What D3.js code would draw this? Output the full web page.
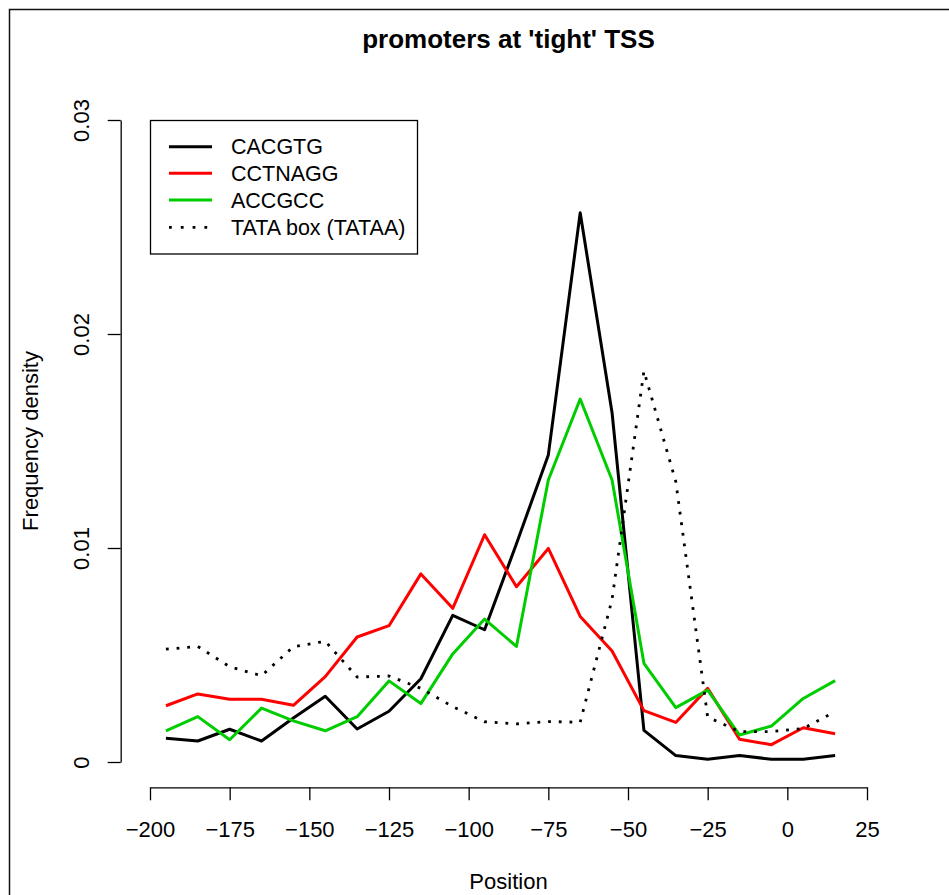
<!DOCTYPE html>
<html>
<head>
<meta charset="utf-8">
<script src="https://cdn.jsdelivr.net/npm/d3@7"></script>
<style>
  html, body { margin: 0; padding: 0; background: #fff; }
  svg { display: block; font-family: "Liberation Sans", Arial, Helvetica, sans-serif; }
</style>
</head>
<body>
<svg id="chart" width="949" height="895"></svg>
<script>
// ---- data ----
const positions = [-195, -185, -175, -165, -155, -145, -135, -125, -115, -105, -95, -85, -75, -65, -55, -45, -35, -25, -15, -5, 5, 15];
const cacgtg  = [0.00111, 0.00098, 0.00153, 0.00098, 0.00206, 0.00307, 0.00154, 0.00237, 0.00389, 0.00685, 0.00618, 0.0102, 0.01435, 0.02567, 0.01632, 0.00148, 0.0003, 0.00013, 0.0003, 0.00013, 0.00013, 0.0003];
const cctnagg = [0.00263, 0.00318, 0.00293, 0.00293, 0.00265, 0.00399, 0.00584, 0.00637, 0.00879, 0.00718, 0.01062, 0.00819, 0.00998, 0.0068, 0.00519, 0.0024, 0.00185, 0.00344, 0.00106, 0.00081, 0.0016, 0.00132];
const accgcc  = [0.00145, 0.00212, 0.00104, 0.00252, 0.00192, 0.00146, 0.00212, 0.00379, 0.00273, 0.00505, 0.00668, 0.0054, 0.01318, 0.01696, 0.01318, 0.00461, 0.00254, 0.00336, 0.00126, 0.00168, 0.00297, 0.0038];
const tata    = [0.00527, 0.0054, 0.00445, 0.00403, 0.00539, 0.00564, 0.00397, 0.00402, 0.00344, 0.00259, 0.00188, 0.00178, 0.00189, 0.00186, 0.0076, 0.01827, 0.0131, 0.0021, 0.00142, 0.00142, 0.00157, 0.00235];
const seriesNames = ["CACGTG", "CCTNAGG", "ACCGCC", "TATA box (TATAA)"];
const seriesColors = ["#000000", "#FF0000", "#00CD00", "#000000"];
const xTicks = [-200, -175, -150, -125, -100, -75, -50, -25, 0, 25];
const yTicks = [0, 0.01, 0.02, 0.03];
const titleText = "promoters at 'tight' TSS";
const xLabel = "Position";
const yLabel = "Frequency density";

const seriesValues = [cacgtg, cctnagg, accgcc, tata];
const dotted = [false, false, false, true];

// ---- layout ----
const svg = d3.select("#chart");
const x = d3.scaleLinear().domain([-200, 25]).range([150, 867]);
const y = d3.scaleLinear().domain([0, 0.03]).range([762, 120]);
const xAxisY = 787.3;
const yAxisX = 120.7;
const fontSize = 22;

// figure frame
svg.append("rect")
  .attr("x", 9.5).attr("y", 9.5).attr("width", 1200).attr("height", 1200)
  .attr("fill", "none").attr("stroke", "#111").attr("stroke-width", 1.5);

// title
svg.append("text")
  .attr("x", (x.range()[0] + x.range()[1]) / 2).attr("y", 48)
  .attr("text-anchor", "middle")
  .attr("font-weight", "bold").attr("font-size", 26)
  .text(titleText);

// x axis
const gx = svg.append("g").attr("transform", `translate(0,${xAxisY})`)
  .call(d3.axisBottom(x).tickValues(xTicks).tickSize(13).tickSizeOuter(0));
gx.select(".domain").attr("stroke-width", 1.3);
gx.selectAll(".tick line").attr("stroke-width", 1.3);
gx.selectAll(".tick text").attr("y", 50).attr("dy", 0)
  .attr("font-size", fontSize).attr("font-family", "Liberation Sans, Arial, sans-serif").attr("fill", "#000");

// y axis
const gy = svg.append("g").attr("transform", `translate(${yAxisX},0)`)
  .call(d3.axisLeft(y).tickValues(yTicks).tickSize(13).tickSizeOuter(0)
    .tickFormat(d => d === 0 ? "0" : d3.format(".2f")(d)));
gy.select(".domain").attr("stroke-width", 1.3);
gy.selectAll(".tick line").attr("stroke-width", 1.3);
gy.selectAll(".tick text")
  .attr("x", null).attr("dy", "0.35em")
  .attr("transform", "translate(-39.5,0) rotate(-90)")
  .attr("text-anchor", "middle")
  .attr("font-size", fontSize).attr("font-family", "Liberation Sans, Arial, sans-serif").attr("fill", "#000");

// axis titles
svg.append("text")
  .attr("x", (x.range()[0] + x.range()[1]) / 2).attr("y", 889)
  .attr("text-anchor", "middle").attr("font-size", fontSize)
  .text(xLabel);
svg.append("text")
  .attr("transform", `translate(30,${(y.range()[0] + y.range()[1]) / 2}) rotate(-90)`)
  .attr("dy", "0.35em")
  .attr("text-anchor", "middle").attr("font-size", fontSize)
  .text(yLabel);

// lines
const line = d3.line().x(d => x(d[0])).y(d => y(d[1]));
seriesValues.forEach((vals, i) => {
  const pts = positions.map((p, j) => [p, vals[j]]);
  svg.append("path")
    .datum(pts)
    .attr("d", line)
    .attr("fill", "none")
    .attr("stroke", seriesColors[i])
    .attr("stroke-width", dotted[i] ? 2.8 : 3)
    .attr("stroke-linejoin", "round")
    .attr("stroke-dasharray", dotted[i] ? "2.8,7.9" : null);
});

// legend
const lg = svg.append("g");
lg.append("rect")
  .attr("x", 150.5).attr("y", 120.5).attr("width", 267).attr("height", 133.5)
  .attr("fill", "#fff").attr("stroke", "#000").attr("stroke-width", 1.3);
const rowY = [146.7, 173.3, 200, 227.3];
seriesNames.forEach((name, i) => {
  lg.append("line")
    .attr("x1", 169).attr("x2", 212).attr("y1", rowY[i]).attr("y2", rowY[i])
    .attr("stroke", seriesColors[i]).attr("stroke-width", dotted[i] ? 2.8 : 3)
    .attr("stroke-dasharray", dotted[i] ? "2.8,9" : null);
  lg.append("text")
    .attr("x", 231).attr("y", rowY[i]).attr("dy", "0.35em")
    .attr("font-size", 21.5)
    .text(name);
});
</script>
</body>
</html>
